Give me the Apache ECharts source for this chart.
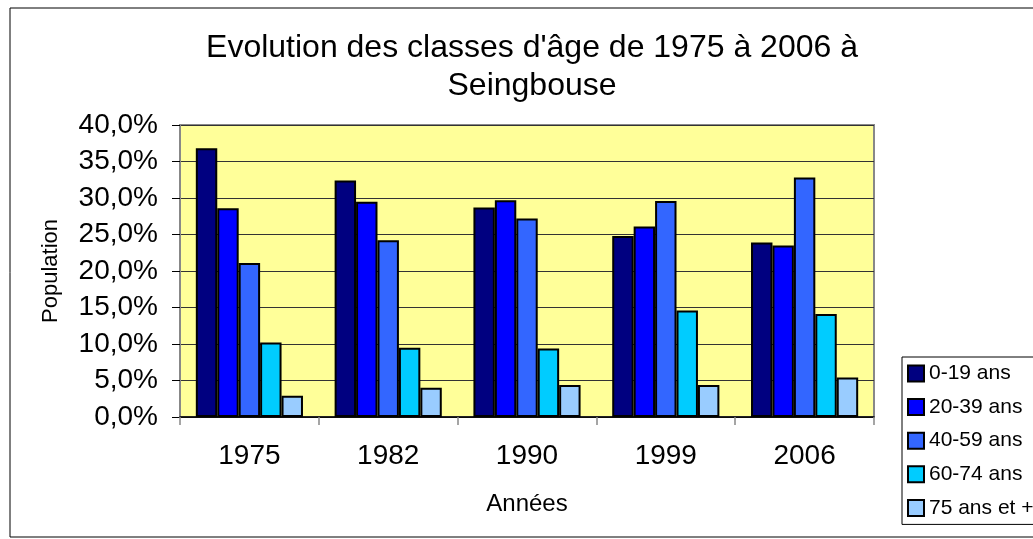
<!DOCTYPE html>
<html>
<head>
<meta charset="utf-8">
<script src="https://cdn.jsdelivr.net/npm/echarts@6/dist/echarts.min.js"></script>
<style>
  html, body { margin: 0; padding: 0; background: #fff; }
  #chart { width: 1033px; height: 539px; }
</style>
</head>
<body>
<div id="chart"></div>
<script>
// données (en %)
const annees = ['1975', '1982', '1990', '1999', '2006'];
const classes = ['0-19 ans', '20-39 ans', '40-59 ans', '60-74 ans', '75 ans et +'];
const couleurs = ['#000080', '#0000ff', '#3366ff', '#00ccff', '#99ccff'];
const age0_19 = [36.8, 32.4, 28.7, 24.8, 23.9];
const age20_39 = [28.6, 29.5, 29.7, 26.1, 23.5];
const age40_59 = [21.1, 24.2, 27.2, 29.6, 32.8];
const age60_74 = [10.2, 9.5, 9.4, 14.6, 14.1];
const age75 = [2.9, 4.0, 4.4, 4.4, 5.4];
const valeurs = [age0_19, age20_39, age40_59, age60_74, age75];

const police = 'Liberation Sans';
const chart = echarts.init(document.getElementById('chart'));

chart.setOption({
  animation: false,
  backgroundColor: '#fff',
  textStyle: { fontFamily: police },
  title: {
    text: "Evolution des classes d'âge de 1975 à 2006 à\nSeingbouse",
    left: 532,
    textAlign: 'center',
    top: 29,
    padding: 0,
    textStyle: { fontFamily: police, fontSize: 32, fontWeight: 'normal', lineHeight: 38, color: '#000' }
  },
  legend: {
    orient: 'vertical',
    left: 902,
    top: 357,
    width: 140,
    padding: [6, 40, 6, 5],
    itemGap: 12.6,
    itemWidth: 16,
    itemHeight: 16,
    icon: 'rect',
    borderColor: '#000',
    borderWidth: 1,
    backgroundColor: '#fff',
    itemStyle: { borderColor: '#000', borderWidth: 2 },
    textStyle: { fontFamily: police, fontSize: 21, lineHeight: 21, color: '#000' },
    data: classes
  },
  graphic: [{
    type: 'rect',
    shape: { x: 10, y: 8, width: 1040, height: 529 },
    style: { fill: 'none', stroke: '#000', lineWidth: 1 },
    z: -1
  }],
  grid: {
    left: 180,
    right: 1033 - 874,
    top: 125,
    bottom: 539 - 417,
    show: true,
    backgroundColor: '#ffff99',
    borderColor: '#888',
    borderWidth: 2
  },
  xAxis: {
    type: 'category',
    data: annees,
    name: 'Années',
    nameLocation: 'middle',
    nameGap: 75,
    nameTextStyle: { fontFamily: police, fontSize: 24, color: '#000' },
    axisLine: { lineStyle: { color: '#000', width: 1.5 } },
    axisTick: { show: true, length: 8, lineStyle: { color: '#888', width: 1.5 } },
    axisLabel: { fontFamily: police, fontSize: 28, color: '#000', margin: 25 }
  },
  yAxis: {
    type: 'value',
    min: 0,
    max: 40,
    interval: 5,
    name: 'Population',
    nameLocation: 'middle',
    nameRotate: 90,
    nameGap: 118,
    nameTextStyle: { fontFamily: police, fontSize: 22, color: '#000' },
    axisLine: { show: true, lineStyle: { color: '#888', width: 2 } },
    axisTick: { show: true, length: 8, lineStyle: { color: '#000', width: 1 } },
    axisLabel: {
      fontFamily: police,
      fontSize: 28,
      color: '#000',
      margin: 22,
      formatter: v => v.toFixed(1).replace('.', ',') + '%'
    },
    splitLine: { show: true, lineStyle: { color: '#333', width: 1 } }
  },
  series: classes.map((nom, i) => ({
    name: nom,
    type: 'bar',
    data: valeurs[i],
    barGap: '0%',
    barCategoryGap: '22.8%',
    itemStyle: { color: couleurs[i], borderColor: '#000', borderWidth: 2 }
  }))
});
</script>
</body>
</html>
